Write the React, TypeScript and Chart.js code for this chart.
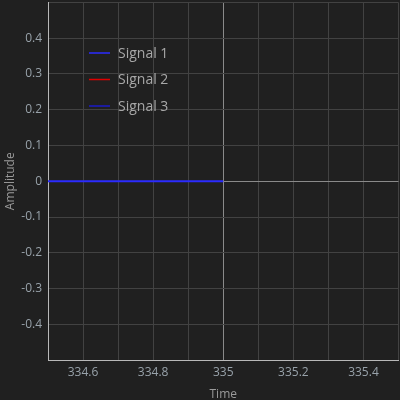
import React, { useEffect, useRef } from "react";
import { Chart, registerables } from "chart.js";

Chart.register(...registerables);

const seriesLabels = ["Signal 1", "Signal 2", "Signal 3"];
const seriesColors = ["#2b2bff", "#e00000", "#1a1ac8"];
const signal1X = [334.5, 334.6, 334.7, 334.8, 334.9, 335.0];
const signal1Y = [0, 0, 0, 0, 0, 0];
const signal2X: number[] = [];
const signal2Y: number[] = [];
const signal3X: number[] = [];
const signal3Y: number[] = [];
const xRange = [334.5, 335.5];
const yRange = [-0.5, 0.5];
const markerX = 335;

const toPts = (xs: number[], ys: number[]) => xs.map((x, i) => ({ x, y: ys[i] }));

const insideLegend = {
  id: "insideLegend",
  afterDraw(chart: any) {
    const { ctx, chartArea } = chart;
    ctx.save();
    ctx.font = "14px 'Open Sans'";
    ctx.textBaseline = "middle";
    chart.data.datasets.forEach((ds: any, i: number) => {
      const y = chartArea.top + 50.5 + i * 26.5;
      const x0 = chartArea.left + 41;
      ctx.strokeStyle = ds.borderColor;
      ctx.lineWidth = 1.5;
      ctx.beginPath();
      ctx.moveTo(x0, y);
      ctx.lineTo(x0 + 21, y);
      ctx.stroke();
      ctx.fillStyle = "#a8a8a8";
      ctx.fillText(ds.label, x0 + 29, y + 1);
    });
    ctx.restore();
  },
};

const bgPlugin = {
  id: "bg",
  beforeDraw(chart: any) {
    const { ctx, width, height } = chart;
    ctx.save();
    ctx.fillStyle = "#202020";
    ctx.fillRect(0, 0, width, height);
    ctx.restore();
  },
};

export default function App() {
  const ref = useRef<HTMLCanvasElement>(null);
  useEffect(() => {
    if (!ref.current) return;
    const xs = [signal1X, signal2X, signal3X];
    const ys = [signal1Y, signal2Y, signal3Y];
    const chart = new Chart(ref.current, {
      type: "line",
      data: {
        datasets: seriesLabels.map((label, i) => ({
          label,
          data: toPts(xs[i], ys[i]),
          borderColor: seriesColors[i],
          backgroundColor: seriesColors[i],
          borderWidth: 2,
          pointRadius: 0,
          tension: 0,
        })),
      },
      options: {
        animation: false,
        responsive: false,
        layout: { padding: { top: 2.5, right: 1.5, left: 0, bottom: 0 } },
        plugins: { legend: { display: false }, tooltip: { enabled: false } },
        scales: {
          x: {
            type: "linear",
            min: xRange[0],
            max: xRange[1],
            afterFit: (s: any) => {
              s.height = 40;
              s.paddingLeft = 0;
              s.paddingRight = 0;
            },
            ticks: {
              stepSize: 0.1,
              color: "#98a2aa",
              font: { family: "'Open Sans'", size: 12 },
              padding: 5,
              maxRotation: 0,
              autoSkip: false,
              callback: (v: any) => {
                const n = Math.round(Number(v) * 10);
                if (n % 2 !== 0) return "";
                return String(Number(Number(v).toFixed(1)));
              },
            },
            grid: {
              drawTicks: false,
              color: (c: any) =>
                c.tick && Math.abs(c.tick.value - markerX) < 1e-6 ? "#8a8a8a" : "#424242",
              lineWidth: 1,
            },
            border: { color: "#b8b8b8", width: 1 },
            title: {
              display: true,
              text: "Time",
              color: "#9a9a9a",
              font: { family: "'Open Sans'", size: 12 },
              padding: { top: 0, bottom: -2 },
            },
          },
          y: {
            type: "linear",
            min: yRange[0],
            max: yRange[1],
            afterFit: (s: any) => {
              s.width = 48;
              s.paddingTop = 0;
              s.paddingBottom = 0;
            },
            ticks: {
              stepSize: 0.1,
              color: "#98a2aa",
              font: { family: "'Open Sans'", size: 12 },
              padding: 6,
              autoSkip: false,
              callback: (v: any) => {
                const n = Math.round(Number(v) * 10);
                if (Math.abs(n) >= 5) return "";
                return String(n / 10);
              },
            },
            grid: {
              drawTicks: false,
              color: (c: any) =>
                c.tick && Math.abs(c.tick.value) < 1e-6 ? "#8a8a8a" : "#424242",
              lineWidth: 1,
            },
            border: { color: "#b8b8b8", width: 1 },
            title: {
              display: true,
              text: "Amplitude",
              color: "#9a9a9a",
              font: { family: "'Open Sans'", size: 12 },
              padding: { top: 3, bottom: 3 },
            },
          },
        },
      },
      plugins: [bgPlugin, insideLegend],
    });
    return () => chart.destroy();
  }, []);
  return (
    <div style={{ position: "fixed", left: 0, top: 0, width: 400, height: 400, background: "#202020" }}>
      <canvas ref={ref} width={400} height={400} style={{ display: "block" }} />
    </div>
  );
}
